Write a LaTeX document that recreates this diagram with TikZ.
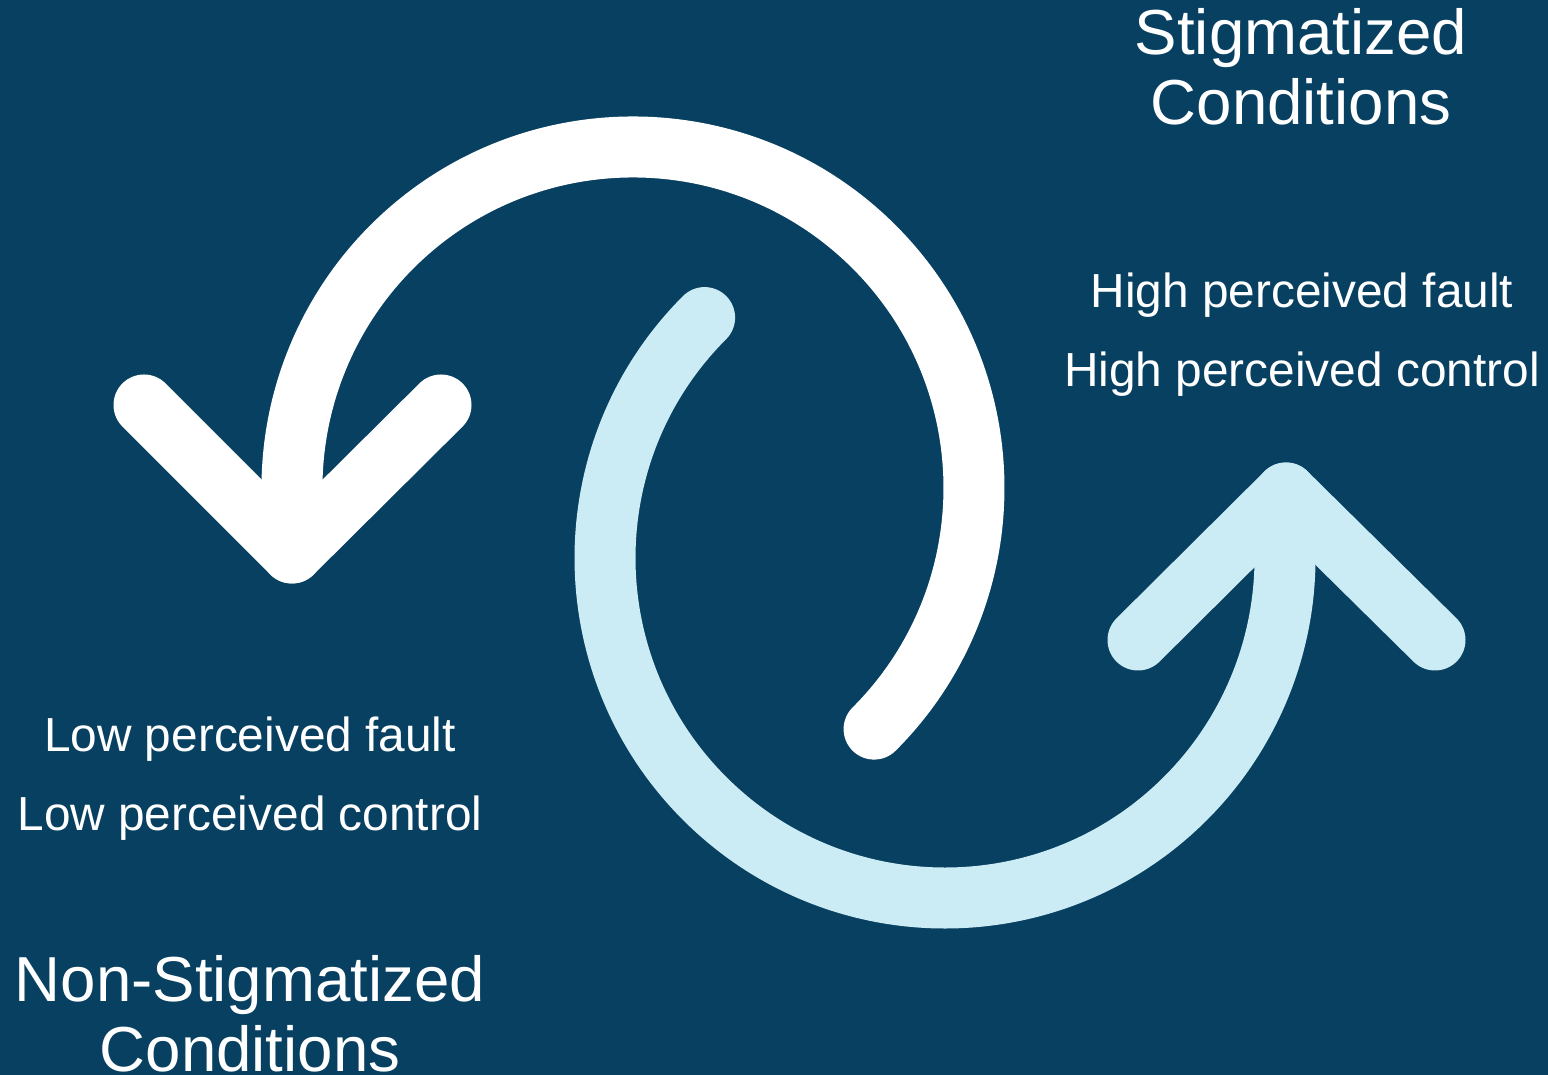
\documentclass[tikz,border=0pt]{standalone}
\usepackage{fontspec}
\setmainfont{Liberation Sans}
\definecolor{bgblue}{RGB}{7,64,97}
\definecolor{lightcyan}{RGB}{203,236,244}
\begin{document}
\begin{tikzpicture}[x=1pt,y=1pt,
  band/.style={line width=61pt, line cap=round, line join=round},
  bigtxt/.style={text=white, font=\fontsize{63.6}{70}\selectfont, anchor=base, inner sep=0pt},
  smalltxt/.style={text=white, font=\fontsize{47.8}{55}\selectfont, anchor=base, inner sep=0pt}]
\fill[bgblue] (0,0) rectangle (1548,1075);
\useasboundingbox (0,0) rectangle (1548,1075);
% white arrow
\coordinate (ws) at (874.1,345.9);
\coordinate (wtip) at (292,522);
\coordinate (wl) at (144,670);
\coordinate (wr) at (441,670);
\draw[band, white] (ws) arc[start angle=-45, end angle=180, radius=341] -- (wtip);
\draw[band, white] (wl) -- (wtip) -- (wr);
% light blue arrow
\coordinate (bs) at (704.6,757.4);
\coordinate (btip) at (1286,582);
\coordinate (bl) at (1138,435);
\coordinate (br) at (1435,435);
\draw[band, lightcyan] (bs) arc[start angle=135, end angle=360, radius=340] -- (btip);
\draw[band, lightcyan] (bl) -- (btip) -- (br);
% texts
\node[bigtxt] (st1) at (1301,1020) {Stigmatized};
\node[bigtxt] (st2) at (1301,950) {Conditions};
\node[smalltxt] (h1) at (1302,767) {High perceived fault};
\node[smalltxt] (h2) at (1302,688) {High perceived control};
\node[smalltxt] (l1) at (250,323.5) {Low perceived fault};
\node[smalltxt] (l2) at (250,244.5) {Low perceived control};
\node[bigtxt] (ns1) at (250,73.5) {Non-Stigmatized};
\node[bigtxt] (ns2) at (250,3.5) {Conditions};
\end{tikzpicture}
\end{document}
